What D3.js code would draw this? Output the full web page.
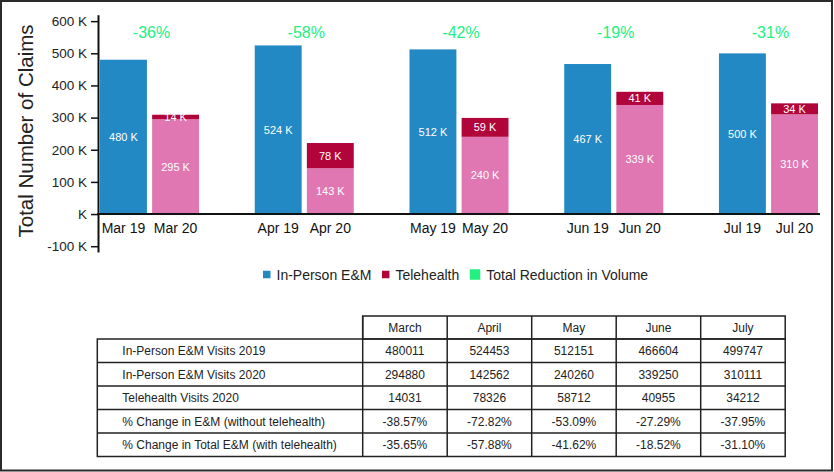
<!DOCTYPE html>
<html>
<head>
<meta charset="utf-8">
<script src="https://cdn.jsdelivr.net/npm/d3@7"></script>
<style>
  body { margin: 0; background: #fff; }
  svg { display: block; font-family: "Liberation Sans", Arial, sans-serif; }
</style>
</head>
<body>
<div id="wrapper"></div>
<script>
// claims per month, 2019 vs 2020 (in-person + telehealth)
const months = ["March", "April", "May", "June", "July"]
const monthShort = ["Mar", "Apr", "May", "Jun", "Jul"]
const years = ["19", "20"]
const inPerson2019 = [480011, 524453, 512151, 466604, 499747]
const inPerson2020 = [294880, 142562, 240260, 339250, 310111]
const telehealth2020 = [14031, 78326, 58712, 40955, 34212]
const changeNoTele = [-38.57, -72.82, -53.09, -27.29, -37.95]
const changeTotal = [-35.65, -57.88, -41.62, -18.52, -31.10]
const yTicks = [-100000, 0, 100000, 200000, 300000, 400000, 500000, 600000]
const rowLabels = [
  "In-Person E&M Visits 2019",
  "In-Person E&M Visits 2020",
  "Telehealth Visits 2020",
  "% Change in E&M (without telehealth)",
  "% Change in Total E&M (with telehealth)"
]
const legendItems = ["In-Person E&M", "Telehealth", "Total Reduction in Volume"]

const colors = {
  inPerson: "#2389c4",
  inPerson2020: "#e077b2",
  tele: "#b0043a",
  reduction: "#22f07f"
}

function drawChart() {
  const dimensions = {
    width: 834,
    height: 472,
    plotLeft: 98,
    plotRight: 820,
    plotTop: 14.7,
    plotBottom: 252
  }

  const svg = d3.select("#wrapper")
    .append("svg")
    .attr("width", dimensions.width)
    .attr("height", dimensions.height)

  // outer frame
  svg.append("rect")
    .attr("x", 1).attr("y", 1)
    .attr("width", dimensions.width - 3)
    .attr("height", dimensions.height - 2.5)
    .attr("fill", "none")
    .attr("stroke", "#2b2b2b")
    .attr("stroke-width", 2)

  // scales
  const yScale = d3.scaleLinear()
    .domain([-118000, 620000])
    .range([dimensions.plotBottom, dimensions.plotTop])

  const xGroup = d3.scaleBand()
    .domain(monthShort)
    .range([dimensions.plotLeft, dimensions.plotRight])
    .paddingInner(0.36)
    .paddingOuter(0.013)

  const xBar = d3.scaleBand()
    .domain(years)
    .range([0, xGroup.bandwidth()])
    .paddingInner(0.1)

  const kFormat = v => Math.round(v / 1000) + " K"

  // y axis
  const yAxis = svg.append("g")
    .attr("transform", `translate(${dimensions.plotLeft},0)`)
    .call(d3.axisLeft(yScale)
      .tickValues(yTicks)
      .tickSize(7)
      .tickSizeOuter(0)
      .tickFormat(d => d === 0 ? "K" : (d / 1000) + " K"))
  yAxis.select(".domain").attr("stroke", "#111").attr("stroke-width", 2)
  yAxis.selectAll(".tick line").attr("stroke", "#111").attr("stroke-width", 1.5)
  yAxis.selectAll(".tick text")
    .attr("x", -11)
    .attr("fill", "#222")
    .style("font-size", "13.5px")
    .style("font-family", "'Liberation Sans', Arial, sans-serif")

  svg.append("text")
    .attr("transform", `translate(33,131) rotate(-90)`)
    .attr("text-anchor", "middle")
    .attr("fill", "#222")
    .style("font-size", "20.5px")
    .text("Total Number of Claims")

  // bars
  const groups = svg.append("g")
    .selectAll("g")
    .data(monthShort)
    .join("g")
    .attr("transform", d => `translate(${xGroup(d)},0)`)

  groups.append("rect")
    .attr("x", xBar("19"))
    .attr("y", (d, i) => yScale(inPerson2019[i]))
    .attr("width", xBar.bandwidth())
    .attr("height", (d, i) => yScale(0) - yScale(inPerson2019[i]))
    .attr("fill", colors.inPerson)

  groups.append("rect")
    .attr("x", xBar("20"))
    .attr("y", (d, i) => yScale(inPerson2020[i]))
    .attr("width", xBar.bandwidth())
    .attr("height", (d, i) => yScale(0) - yScale(inPerson2020[i]))
    .attr("fill", colors.inPerson2020)

  groups.append("rect")
    .attr("x", xBar("20"))
    .attr("y", (d, i) => yScale(inPerson2020[i] + telehealth2020[i]))
    .attr("width", xBar.bandwidth())
    .attr("height", (d, i) => yScale(inPerson2020[i]) - yScale(inPerson2020[i] + telehealth2020[i]))
    .attr("fill", colors.tele)

  // value labels inside bars
  const barLabel = (sel, xKey, lo, hi, text) => sel.append("text")
    .attr("x", xBar(xKey) + xBar.bandwidth() / 2)
    .attr("y", (d, i) => (yScale(lo(i)) + yScale(hi(i))) / 2)
    .attr("dy", "0.36em")
    .attr("text-anchor", "middle")
    .attr("fill", "#fff")
    .style("font-size", "11px")
    .text((d, i) => text(i))

  barLabel(groups, "19", i => 0, i => inPerson2019[i], i => kFormat(inPerson2019[i]))
  barLabel(groups, "20", i => 0, i => inPerson2020[i], i => kFormat(inPerson2020[i]))
  barLabel(groups, "20", i => inPerson2020[i], i => inPerson2020[i] + telehealth2020[i],
    i => kFormat(telehealth2020[i]))

  // total reduction
  groups.append("text")
    .attr("x", xGroup.bandwidth() / 2 + 2)
    .attr("y", yScale(567000))
    .attr("dy", "0.36em")
    .attr("text-anchor", "middle")
    .attr("fill", colors.reduction)
    .style("font-size", "16px")
    .text((d, i) => Math.round(changeTotal[i]) + "%")

  // x axis
  svg.append("line")
    .attr("x1", dimensions.plotLeft - 1)
    .attr("x2", dimensions.plotRight)
    .attr("y1", yScale(0))
    .attr("y2", yScale(0))
    .attr("stroke", "#111")
    .attr("stroke-width", 2)

  years.forEach(yr => {
    groups.append("text")
      .attr("x", xBar(yr) + xBar.bandwidth() / 2)
      .attr("y", yScale(0) + 19)
      .attr("text-anchor", "middle")
      .attr("fill", "#111")
      .style("font-size", "14px")
      .text(d => `${d} ${yr}`)
  })

  // legend
  const legend = svg.append("g").attr("transform", "translate(263,274.5)")
  const legendColors = [colors.inPerson, colors.tele, colors.reduction]
  const legendSizes = [7.5, 7.5, 10.5]
  let lx = 0
  legendItems.forEach((label, i) => {
    const s = legendSizes[i]
    legend.append("rect")
      .attr("x", lx).attr("y", -s / 2)
      .attr("width", s).attr("height", s)
      .attr("fill", legendColors[i])
    const t = legend.append("text")
      .attr("x", lx + s + 6)
      .attr("dy", "0.36em")
      .attr("fill", "#222")
      .style("font-size", "14px")
      .text(label)
    lx += s + 6 + t.node().getComputedTextLength() + 10.5
  })

  // table
  const table = {
    left: 97.3,
    labelRight: 362.7,
    colWidth: 84.5,
    top: 316,
    rowHeight: 23.5
  }
  const tableRows = [
    inPerson2019.map(String),
    inPerson2020.map(String),
    telehealth2020.map(String),
    changeNoTele.map(v => v.toFixed(2) + "%"),
    changeTotal.map(v => v.toFixed(2) + "%")
  ]
  const tableG = svg.append("g")
  const colX = i => table.labelRight + i * table.colWidth
  const tableRight = colX(months.length)
  const bodyTop = table.top + 23
  const bodyBottom = bodyTop + tableRows.length * table.rowHeight

  const lineStyle = sel => sel.attr("stroke", "#222").attr("stroke-width", 1.5)

  // header box
  tableG.append("rect")
    .attr("x", table.labelRight).attr("y", table.top)
    .attr("width", tableRight - table.labelRight)
    .attr("height", bodyTop - table.top)
    .attr("fill", "none").call(lineStyle)
  // body box
  tableG.append("rect")
    .attr("x", table.left).attr("y", bodyTop)
    .attr("width", tableRight - table.left)
    .attr("height", bodyBottom - bodyTop)
    .attr("fill", "none").call(lineStyle)

  d3.range(1, tableRows.length).forEach(r => {
    tableG.append("line")
      .attr("x1", table.left).attr("x2", tableRight)
      .attr("y1", bodyTop + r * table.rowHeight)
      .attr("y2", bodyTop + r * table.rowHeight)
      .call(lineStyle)
  })
  d3.range(0, months.length).forEach(c => {
    tableG.append("line")
      .attr("x1", colX(c)).attr("x2", colX(c))
      .attr("y1", table.top).attr("y2", bodyBottom)
      .call(lineStyle)
  })

  tableG.selectAll(".head")
    .data(months)
    .join("text")
    .attr("x", (d, i) => colX(i) + table.colWidth / 2)
    .attr("y", (table.top + bodyTop) / 2)
    .attr("dy", "0.36em")
    .attr("text-anchor", "middle")
    .attr("fill", "#222")
    .style("font-size", "12px")
    .text(d => d)

  tableRows.forEach((row, r) => {
    const cy = bodyTop + (r + 0.5) * table.rowHeight
    tableG.append("text")
      .attr("x", 122.3)
      .attr("y", cy)
      .attr("dy", "0.36em")
      .attr("fill", "#222")
      .style("font-size", "12px")
      .text(rowLabels[r])
    row.forEach((v, c) => {
      tableG.append("text")
        .attr("x", colX(c) + table.colWidth / 2)
        .attr("y", cy)
        .attr("dy", "0.36em")
        .attr("text-anchor", "middle")
        .attr("fill", "#222")
        .style("font-size", "12px")
        .text(v)
    })
  })
}

drawChart()
</script>
</body>
</html>
